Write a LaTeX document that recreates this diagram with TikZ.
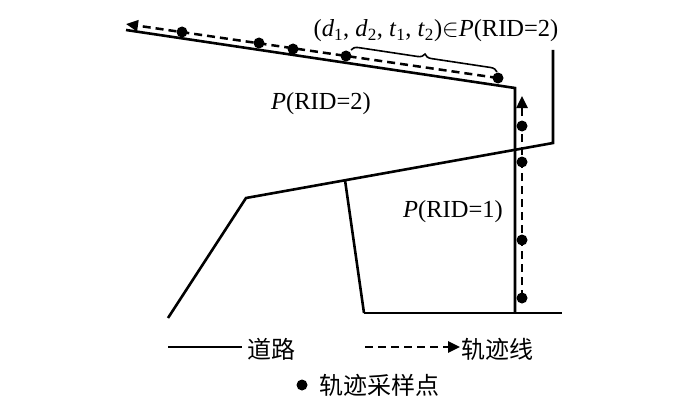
\documentclass[tikz,border=0pt]{standalone}
\usepackage{fontspec}
\setmainfont{Liberation Serif}
\newfontfamily\cjk{Noto Sans CJK SC}
\usetikzlibrary{arrows.meta,decorations.pathreplacing}
\begin{document}
\begin{tikzpicture}[x=1pt,y=-1pt,
  road/.style={line width=2.6pt,line join=miter},
  traj/.style={line width=2.5pt,dash pattern=on 8pt off 5pt,-{Triangle[length=12pt,width=11pt]}},
  sdot/.style={circle,fill=black,inner sep=0pt,minimum size=11pt},
  lbl/.style={font=\fontsize{24.5}{28}\selectfont,inner sep=0pt},
  cjklbl/.style={font=\cjk\fontsize{24}{28}\selectfont,inner sep=0pt,anchor=west}]
\useasboundingbox (0,0) rectangle (700,404);
% road geometry
\coordinate (r1) at (126,30);
\coordinate (r2) at (515,88);
\coordinate (r3) at (515,313);
\coordinate (r4) at (364,313);
\coordinate (r5) at (562,313);
\coordinate (s1) at (553,50);
\coordinate (s2) at (553,143);
\coordinate (s3) at (246,198);
\coordinate (s4) at (168,318);
\coordinate (m1) at (345,180);
\draw[road] (r1) -- (r2) -- (r3);
\draw[road] (r4) -- (r5);
\draw[road] (s1) -- (s2) -- (s3) -- (s4);
\draw[road] (m1) -- (r4);
% trajectory
\node[sdot] (p1) at (498,78) {};
\node[sdot] (p2) at (346,56) {};
\node[sdot] (p3) at (293,49) {};
\node[sdot] (p4) at (259,43) {};
\node[sdot] (p5) at (182,32) {};
\coordinate (pend) at (126,24);
\draw[traj] (p1.center) -- (pend);
\node[sdot] (q1) at (522,298) {};
\node[sdot] (q2) at (522,240) {};
\node[sdot] (q3) at (522,162) {};
\node[sdot] (q4) at (522,126) {};
\coordinate (qend) at (522,96);
\draw[traj] (q1.center) -- (qend);
% brace
\coordinate (b1) at (351,50);
\coordinate (b2) at (497,72);
\draw[line width=1.6pt,decorate,decoration={brace,amplitude=7pt}] (b1) -- (b2);
% labels
\node[lbl,anchor=base] (t1) at (436,37) {(\textit{d}\textsubscript{1}, \textit{d}\textsubscript{2}, \textit{t}\textsubscript{1}, \textit{t}\textsubscript{2})$\in$\textit{P}(RID=2)};
\node[lbl] (t2) at (321,104) {\textit{P}(RID=2)};
\node[lbl] (t3) at (453,212) {\textit{P}(RID=1)};
% legend
\coordinate (l1a) at (168,347);
\coordinate (l1b) at (242,347);
\draw[road] (l1a) -- (l1b);
\node[cjklbl] (leg1) at (247,349) {道路};
\coordinate (l2a) at (365,347);
\coordinate (l2b) at (460,347);
\draw[traj] (l2a) -- (l2b);
\node[cjklbl] (leg2) at (461,349) {轨迹线};
\node[sdot] (ld) at (302,385) {};
\node[cjklbl] (leg3) at (319,385) {轨迹采样点};
\end{tikzpicture}
\end{document}
